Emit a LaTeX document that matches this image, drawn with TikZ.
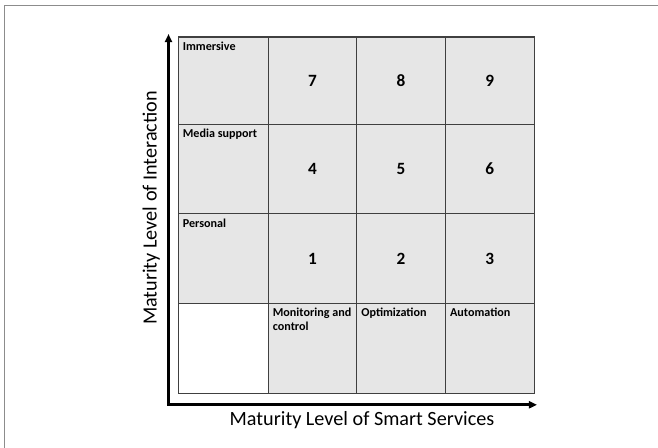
\documentclass[tikz,border=0pt]{standalone}
\usepackage{xcolor}
\usepackage{fontspec}
\setmainfont{Carlito}
\usetikzlibrary{arrows.meta,positioning}
\definecolor{cellgray}{RGB}{230,230,230}
\definecolor{gridline}{RGB}{64,64,64}
\definecolor{framegray}{RGB}{140,140,140}

\begin{document}
\begin{tikzpicture}[x=0.02cm, y=-0.02cm]
		\tikzstyle{every node}=[font=\fontsize{6.9}{8.4}\selectfont\bfseries]
		\tikzstyle{celllabel}=[anchor=base west, inner sep=0pt, align=left]
		\tikzstyle{cellnumber}=[font=\fontsize{9.8}{11}\selectfont\bfseries]
		\tikzstyle{axislabel}=[font=\fontsize{11.5}{13}\selectfont, inner sep=0pt, anchor=base]
		\tikzstyle{axis}=[line width=1.7pt, {Triangle[length=4.6pt,width=4pt]}-{Triangle[length=4.6pt,width=4pt]}]
		\useasboundingbox (0,0) rectangle (658,448);
		% outer frame
		\draw [line width=0.85pt, framegray] (4.7,448) -- (4.7,5.5) -- (658,5.5);
		% cells
		\fill [cellgray] (178.7,37) rectangle (534.3,393.3);
		\fill [white] (178.7,303.3) rectangle (268.3,393.3);
		\draw [line width=0.75pt, gridline] (178.7,37) rectangle (534.3,393.3);
		\draw [line width=0.75pt, gridline] (268.3,37) -- (268.3,393.3);
		\draw [line width=0.75pt, gridline] (356.7,37) -- (356.7,393.3);
		\draw [line width=0.75pt, gridline] (445.3,37) -- (445.3,393.3);
		\draw [line width=0.75pt, gridline] (178.7,124.3) -- (534.3,124.3);
		\draw [line width=0.75pt, gridline] (178.7,213.7) -- (534.3,213.7);
		\draw [line width=0.75pt, gridline] (178.7,303.3) -- (534.3,303.3);
		% axes
		\coordinate (ytip) at (168.5,34);
		\coordinate (xtip) at (537,404.8);
		\draw [axis] (ytip) |- (xtip);
		\node [axislabel] (xlabel) at (362,425.5) {Maturity Level of Smart Services};
		\node [axislabel, rotate=90] (ylabel) at (156.5,208) {Maturity Level of Interaction};
		% row and column headers
		\node [celllabel] (immersive) at (182.5,50.7) {Immersive};
		\node [celllabel] (media) at (182.5,138) {Media support};
		\node [celllabel] (personal) at (182.5,227.4) {Personal};
		\node [celllabel] (monitoring) at (272.5,331) {Monitoring and\\control};
		\node [celllabel] (optimization) at (361,317) {Optimization};
		\node [celllabel] (automation) at (449.7,317) {Automation};
		% numbered cells
		\node [cellnumber] (n7) at (312.5,80.7) {7};
		\node [cellnumber] (n8) at (401,80.7) {8};
		\node [cellnumber] (n9) at (489.8,80.7) {9};
		\node [cellnumber] (n4) at (312.5,169) {4};
		\node [cellnumber] (n5) at (401,169) {5};
		\node [cellnumber] (n6) at (489.8,169) {6};
		\node [cellnumber] (n1) at (312.5,258.5) {1};
		\node [cellnumber] (n2) at (401,258.5) {2};
		\node [cellnumber] (n3) at (489.8,258.5) {3};
	\end{tikzpicture}
\end{document}
